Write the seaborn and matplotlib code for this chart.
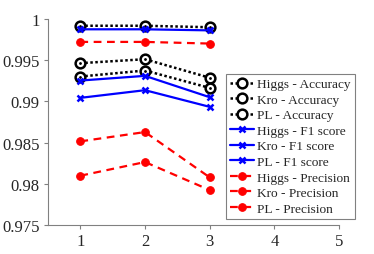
import matplotlib
matplotlib.use("Agg")
import matplotlib.pyplot as plt
import seaborn as sns
import pandas as pd

sns.set_style("white")
plt.rcParams['font.family'] = ['Liberation Serif', 'DejaVu Serif']

x = [1, 2, 3]
labels = ["Higgs - Accuracy", "Kro - Accuracy", "PL - Accuracy",
          "Higgs - F1 score", "Kro - F1 score", "PL - F1 score",
          "Higgs - Precision", "Kro - Precision", "PL - Precision"]
acc_higgs = [0.99918, 0.99918, 0.99900]
acc_kro = [0.99464, 0.99512, 0.99287]
acc_pl = [0.99302, 0.99375, 0.99164]
f1_higgs = [0.99875, 0.99875, 0.99862]
f1_kro = [0.99253, 0.99310, 0.99051]
f1_pl = [0.99043, 0.99136, 0.98934]
prec_higgs = [0.99722, 0.99722, 0.99702]
prec_kro = [0.98515, 0.98628, 0.98078]
prec_pl = [0.98098, 0.98264, 0.97924]
xticks = [1, 2, 3, 4, 5]
yticks = [0.975, 0.98, 0.985, 0.99, 0.995, 1]
ytick_labels = ["0.975", "0.98", "0.985", "0.99", "0.995", "1"]

series = [acc_higgs, acc_kro, acc_pl, f1_higgs, f1_kro, f1_pl, prec_higgs, prec_kro, prec_pl]

fig = plt.figure(figsize=(3.74, 2.55), dpi=100)
L, R, T, B = 48, 339, 20, 226
ax = fig.add_axes([L/374, (255-B)/255, (R-L)/374, (B-T)/255])

for i, (lab, vals) in enumerate(zip(labels, series)):
    df = pd.DataFrame({"x": x, "y": vals})
    kind = i // 3
    if kind == 0:
        kw = dict(color="black", linestyle=(0, (1, 1)), linewidth=1.8, marker="o",
                  markersize=7, markerfacecolor="white", markeredgecolor="black",
                  markeredgewidth=1.8)
    elif kind == 1:
        kw = dict(color="#0000ff", linestyle="-", linewidth=1.6, marker="x",
                  markersize=5, markeredgewidth=1.8, markeredgecolor="#0000ff")
    else:
        kw = dict(color="#ff0000", linestyle=(0, (3.5, 2.5)), linewidth=1.6, marker="o",
                  markersize=5.5, markerfacecolor="#ff0000", markeredgecolor="#ff0000")
    sns.lineplot(data=df, x="x", y="y", ax=ax, label=lab, **kw)
    if kind == 0:
        ax.plot(x, vals, linestyle="none", marker=".", markersize=2, color="black")

ax.set_xlim(0.5, 5.0)
ax.set_ylim(0.975, 1.0)
ax.set_xticks(xticks)
ax.set_xticklabels([str(t) for t in xticks])
ax.set_yticks(yticks)
ax.set_yticklabels(ytick_labels)
ax.set_xlabel("")
ax.set_ylabel("")
ax.tick_params(axis="both", direction="out", length=3, width=0.8, color="#808080",
               labelsize=12, pad=3, bottom=True, left=True)
for s in ["top", "right"]:
    ax.spines[s].set_visible(False)
for s in ["left", "bottom"]:
    ax.spines[s].set_color("#808080")
    ax.spines[s].set_linewidth(0.8)

leg = ax.legend(loc="upper left", bbox_to_anchor=((226-L)/(R-L), (B-75)/(B-T)),
                fontsize=9.6, frameon=True, fancybox=False, framealpha=1,
                edgecolor="#808080", handlelength=1.8, handletextpad=0.25,
                labelspacing=0.24, borderpad=0.3, borderaxespad=0)
leg.get_frame().set_linewidth(0.8)

fig.savefig("out.png", dpi=100)
